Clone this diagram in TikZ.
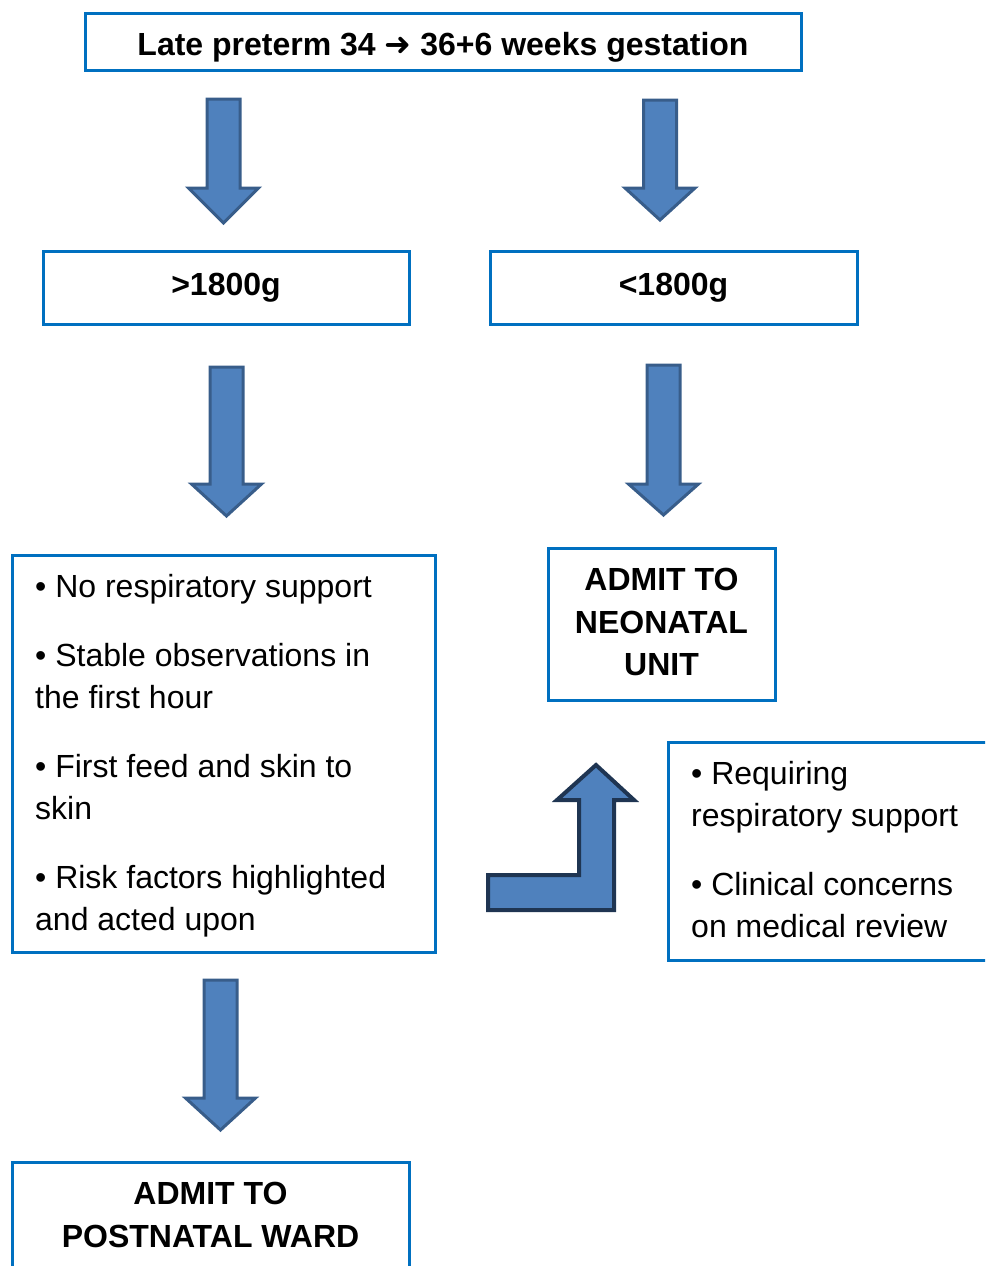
\documentclass[tikz,border=0pt]{standalone}
\usepackage{fontspec}
\setmainfont{Liberation Sans}
\newfontfamily\arrowfont{DejaVu Sans}
\definecolor{boxblue}{HTML}{0070C0}
\definecolor{arrfill}{HTML}{4F81BD}
\definecolor{arredge}{HTML}{385D8A}
\definecolor{arrdark}{HTML}{1F3552}
\tikzset{
  box/.style={draw=boxblue, line width=3pt, fill=white, inner sep=0pt},
  boldtxt/.style={font=\fontsize{32}{42.5}\selectfont\bfseries, align=center, inner sep=0pt},
  bultxt/.style={font=\fontsize{32}{42}\selectfont, align=left, inner sep=0pt, anchor=north west},
  blockarrow/.style={fill=arrfill, draw=arredge, line width=3pt, line join=miter},
  bentarrow/.style={fill=arrfill, draw=arrdark, line width=4pt, line join=miter},
}
\newcommand\dnarrow[4]{%
  \draw[blockarrow] ({#1-16.5},#2) -- ({#1+16.5},#2) -- ({#1+16.5},#3) -- ({#1+35},#3)
    -- (#1,#4) -- ({#1-35},#3) -- ({#1-16.5},#3) -- cycle;}
\begin{document}
\begin{tikzpicture}[x=1pt,y=-1pt]
\useasboundingbox (0,0) rectangle (985,1266);
\clip (0,0) rectangle (985,1266);
% boxes
\node[box, minimum width=716pt, minimum height=57pt] (title) at (443,41.5) {};
\node[boldtxt] (titletxt) at (443,47) {Late preterm 34 {\arrowfont\bfseries ➜} 36+6 weeks gestation};
\node[box, boldtxt, minimum width=366pt, minimum height=73pt] (heavy) at (226,288) {>1800g};
\node[box, boldtxt, minimum width=367pt, minimum height=73pt] (light) at (673.5,288) {<1800g};
\node[box, minimum width=423pt, minimum height=397pt] (criteria) at (223.5,753.5) {};
\node[box, minimum width=227pt, minimum height=152pt] (nnu) at (661.5,624) {};
\node[boldtxt] (nnutxt) at (661.5,622) {ADMIT TO\\NEONATAL\\UNIT};
\node[box, minimum width=340pt, minimum height=218pt] (concerns) at (838,851) {};
\node[box, minimum width=397pt, minimum height=150pt] (pnw) at (210.5,1237) {};
% texts
\node[bultxt] (criteriatxt) at (35,574) {• No respiratory support\\[27pt]
  • Stable observations in\\the first hour\\[27pt]
  • First feed and skin to\\skin\\[27pt]
  • Risk factors highlighted\\and acted upon};
\node[bultxt] (concernstxt) at (691,761) {• Requiring\\respiratory support\\[27pt]
  • Clinical concerns\\on medical review};
\node[boldtxt] (pnwtxt) at (210.5,1215) {ADMIT TO\\POSTNATAL WARD};
% arrows
\dnarrow{223.5}{99}{188}{223}
\dnarrow{660}{100}{188}{220}
\dnarrow{226.5}{367}{484}{516}
\dnarrow{663.5}{365}{484}{515}
\dnarrow{220.5}{980}{1098}{1130}
\draw[bentarrow] (488,875) -- (579,875) -- (579,800) -- (557,800) -- (596,765)
  -- (634,800) -- (614,800) -- (614,910) -- (488,910) -- cycle;
\end{tikzpicture}
\end{document}
